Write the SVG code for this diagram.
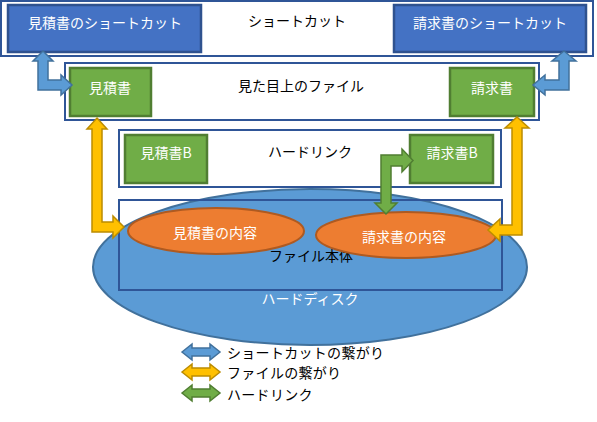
<svg xmlns="http://www.w3.org/2000/svg" width="597" height="422" viewBox="0 0 597 422">
<style>
text{font-family:"Noto Sans CJK JP","Noto Sans",sans-serif;font-size:14px;text-anchor:middle;dominant-baseline:central}
.w{fill:#fff}
.k{fill:#000}
.frame{fill:#fff;stroke:#2F5597;stroke-width:2}
.frameT{fill:none;stroke:#2F5597;stroke-width:2}
.blue{fill:#4472C4;stroke:#2F528F;stroke-width:2.5}
.green{fill:#70AD47;stroke:#507E32;stroke-width:2.5}
.orange{fill:#ED7D31;stroke:#AE5A21;stroke-width:2}
.disk{fill:#5B9BD5;stroke:#41719C;stroke-width:2}
.aB{fill:#5B9BD5;stroke:#41719C;stroke-width:1.5;stroke-linejoin:miter}
.aY{fill:#FFC000;stroke:#BC8C00;stroke-width:1.5}
.aG{fill:#70AD47;stroke:#507E32;stroke-width:1.5}
.lt{text-anchor:start;letter-spacing:0.3px}
</style>
<g id="shortcut-frame">
<rect class="frame" x="1" y="1" width="592" height="55"/>
<text class="k" x="297" y="20">ショートカット</text>
</g>
<g id="shortcut-mitsumori">
<rect class="blue" x="8" y="5" width="193" height="47"/>
<text class="w" x="105" y="22">見積書のショートカット</text>
</g>
<g id="shortcut-seikyu">
<rect class="blue" x="394" y="5" width="192" height="47"/>
<text class="w" x="490" y="22">請求書のショートカット</text>
</g>
<g id="file-frame">
<rect class="frame" x="65" y="63" width="474" height="57"/>
<text class="k" x="301" y="85">見た目上のファイル</text>
</g>
<g id="file-mitsumori">
<rect class="green" x="70" y="68" width="81" height="48"/>
<text class="w" x="110" y="87">見積書</text>
</g>
<g id="file-seikyu">
<rect class="green" x="450" y="68" width="84" height="48"/>
<text class="w" x="492" y="87">請求書</text>
</g>
<g id="hardlink-frame">
<rect class="frame" x="119" y="130" width="382" height="57"/>
<text class="k" x="310" y="151">ハードリンク</text>
</g>
<g id="hardlink-mitsumori">
<rect class="green" x="125" y="135" width="82" height="48"/>
<text class="w" x="166" y="152">見積書B</text>
</g>
<g id="hardlink-seikyu">
<rect class="green" x="410" y="135" width="83" height="48"/>
<text class="w" x="452" y="152">請求書B</text>
</g>
<g id="harddisk">
<ellipse class="disk" cx="310" cy="267" rx="217" ry="78"/>
<text class="w" x="310" y="298">ハードディスク</text>
</g>
<g id="file-body">
<rect class="frameT" x="119" y="200" width="383" height="90"/>
<text class="k" x="311" y="255">ファイル本体</text>
</g>
<g id="content-mitsumori">
<ellipse class="orange" cx="216" cy="231" rx="88" ry="23"/>
<text class="w" x="215" y="232">見積書の内容</text>
</g>
<g id="content-seikyu">
<ellipse class="orange" cx="406" cy="235" rx="90" ry="23"/>
<text class="w" x="404" y="236">請求書の内容</text>
</g>
<g id="connectors">
<path class="aB" d="M43,51 L53,61 L48,61 L48,80 L61,80 L61,75 L72,85 L61,95 L61,90 L38,90 L38,61 L33,61 Z"/>
<path class="aB" d="M564,51 L576,61 L569,61 L569,90 L545,90 L545,95 L533,85 L545,75 L545,80 L559,80 L559,61 L552,61 Z"/>
<path class="aY" d="M97,118 L107,129 L102,129 L102,222 L113,222 L113,216 L124,227 L113,238 L113,232 L92,232 L92,129 L87,129 Z"/>
<path class="aY" d="M517,117 L529,128 L522,128 L522,235 L500,235 L500,241 L488,230 L500,219 L500,225 L512,225 L512,128 L505,128 Z"/>
<path class="aG" d="M386,214 L375,203 L381,203 L381,155 L402,155 L402,149 L413,160.5 L402,172 L402,166 L391,166 L391,203 L397,203 Z"/>
</g>
<g id="legend">
<path class="aB" d="M182,352 L192,344 L192,348 L210,348 L210,344 L220,352 L210,360 L210,356 L192,356 L192,360 Z"/>
<path class="aY" d="M182,372 L192,364 L192,368 L210,368 L210,364 L220,372 L210,380 L210,376 L192,376 L192,380 Z"/>
<path class="aG" d="M182,393 L192,385 L192,389 L210,389 L210,385 L220,393 L210,401 L210,397 L192,397 L192,401 Z"/>
<text class="k lt" x="227" y="352">ショートカットの繋がり</text>
<text class="k lt" x="227" y="372">ファイルの繋がり</text>
<text class="k lt" x="227" y="394">ハードリンク</text>
</g>
</svg>
